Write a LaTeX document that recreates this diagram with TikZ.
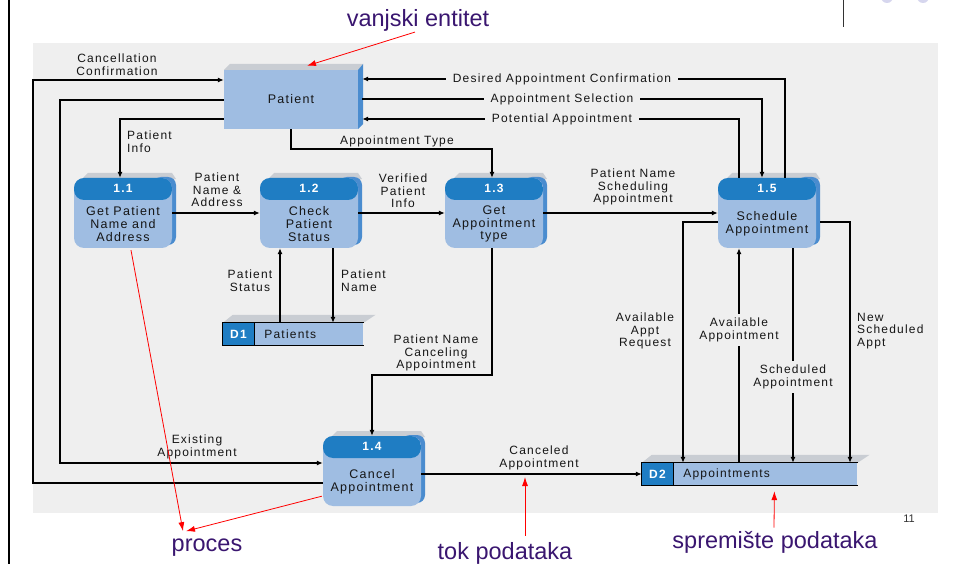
\documentclass[tikz,border=0pt]{standalone}
\usepackage{fontspec}
\setmainfont{Liberation Sans}
\newfontfamily\dfdfont[LetterSpace=10]{Liberation Sans}
\usetikzlibrary{arrows.meta}

\definecolor{slidebg}{HTML}{EFEFEF}
\definecolor{bodyblue}{HTML}{9FBDE2}
\definecolor{headblue}{HTML}{1F7DC3}
\definecolor{sideblue}{HTML}{4A8CCF}
\definecolor{topshade}{HTML}{C9CDD3}
\definecolor{notepurple}{HTML}{3A1670}
\definecolor{dotlilac}{HTML}{D6D6EE}
\definecolor{inktext}{HTML}{151515}

\tikzset{
  flow/.style={line width=1.1pt, -{Latex[length=6pt,width=5pt]}},
  lbl/.style={font=\dfdfont\fontsize{12}{12.6}\selectfont, align=center, inner sep=1pt, text=inktext},
  gaplbl/.style={lbl, fill=slidebg, inner xsep=7pt, inner ysep=4pt},
  proc/.style={rectangle, rounded corners=10pt, fill=bodyblue, minimum width=98pt,
    minimum height=70pt, inner sep=0pt,
    path picture={\fill[headblue] (path picture bounding box.north west)
      rectangle ([yshift=-22pt]path picture bounding box.north east);}},
  procnum/.style={font=\dfdfont\bfseries\fontsize{12}{12}\selectfont, text=white},
  proctext/.style={font=\dfdfont\fontsize{12.5}{12.8}\selectfont, align=center, text=inktext},
  entity/.style={rectangle, fill=bodyblue, minimum width=134pt, minimum height=59pt,
    inner sep=0pt, font=\dfdfont\fontsize{12.5}{12.5}\selectfont, text=inktext},
  storeid/.style={rectangle, fill=headblue, minimum width=31pt, minimum height=22pt,
    inner sep=0pt, font=\dfdfont\bfseries\fontsize{12}{12}\selectfont, text=white},
  storename/.style={rectangle, fill=bodyblue, minimum height=22pt, inner xsep=10pt,
    inner ysep=0pt, align=left, anchor=west, font=\dfdfont\fontsize{12}{12}\selectfont, text=inktext},
  storeline/.style={line width=1.3pt, line join=miter},
  note/.style={font=\fontsize{23.5}{26}\selectfont, text=notepurple, inner sep=0pt, anchor=base},
  notearrow/.style={draw=red, line width=0.8pt, -{Latex[length=9pt,width=6pt]}}
}

% process bubble: name, centre x, centre y, number, caption
\newcommand\dfdproc[5]{%
  \fill[topshade] (#2-40,#3-35) -- (#2-35,#3-40) -- (#2+49,#3-40) -- (#2+53,#3-34) -- (#2+49,#3-33) -- cycle;
  \fill[sideblue, rounded corners=8pt] (#2+30,#3-36) rectangle (#2+53,#3+32);
  \node[proc] (#1) at (#2,#3) {};
  \node[procnum] at ([yshift=-11pt]#1.north) {#4};
  \node[proctext] at ([yshift=-11pt]#1.center) {#5};
}

% data store: id node, name node, centre x of id, centre y, text width of name, id, name
\newcommand\dfdstore[7]{%
  \node[storeid] (#1) at (#3,#4) {#6};
  \node[storename, text width=#5] (#2) at (#1.east) {#7};
  \fill[topshade] (#1.north west) -- ([xshift=10pt,yshift=8pt]#1.north west)
    -- ([xshift=12pt,yshift=8pt]#2.north east) -- (#2.north east) -- cycle;
  \draw[storeline] (#2.north east) -- (#1.north west) -- (#1.south west) -- (#2.south east);
  \draw[storeline] (#1.north east) -- (#1.south east);
}

\begin{document}
\begin{tikzpicture}[x=1pt,y=-1pt]
\useasboundingbox (0,0) rectangle (954,564);
\fill[white] (0,0) rectangle (954,564);

% slide furniture
\draw[line width=2pt] (9,0) -- (9,564);
\draw[line width=1pt, black!80] (843,0) -- (843,27);
\fill[dotlilac] (887,-3) circle (6);
\fill[dotlilac] (923,-3) circle (6);
\fill[slidebg] (33,43) rectangle (938,513);

% external entity
\fill[topshade] (224,70) -- (230,64) -- (363,64) -- (358,70) -- cycle;
\fill[sideblue] (358,70) -- (363,64) -- (363,124) -- (358,129) -- cycle;
\node[entity] (pat) at (291,99.5) {Patient};

% processes
\dfdproc{p11}{123}{213}{1.1}{Get Patient\\Name and\\Address}
\dfdproc{p12}{309}{213}{1.2}{Check\\Patient\\Status}
\dfdproc{p13}{494}{213}{1.3}{Get\\Appointment\\type}
\dfdproc{p15}{767}{213}{1.5}{Schedule\\Appointment}
\dfdproc{p14}{372}{471}{1.4}{Cancel\\Appointment}

% data stores
\dfdstore{d1id}{d1}{238.5}{334}{89pt}{D1}{Patients}
\dfdstore{d2id}{d2}{657.5}{474}{164pt}{D2}{Appointments}

% data flows
\draw[flow] ([yshift=-12pt]p14.west) -| (33,80) -- (pat.west |- 0,80);
\node[lbl] at (117,64.5) {Cancellation\\Confirmation};

\draw[flow] (pat.west |- 0,100) -| (60,463) -- (p14.west |- 0,463);
\node[lbl] at (197,447) {Existing\\Appointment};

\draw[flow] (pat.west |- 0,119) -| ([xshift=-3pt]p11.north);
\node[lbl, anchor=west, align=left] at (126,141.5) {Patient\\Info};

\draw[flow] (pat.south) -- (pat.south |- 0,149) -| ([xshift=-2pt]p13.north);
\node[lbl] at (397,141) {Appointment Type};

\draw[flow] ([xshift=18pt]p15.north) |- ([xshift=4pt]pat.east |- 0,79);
\node[gaplbl] at (562,79) {Desired Appointment Confirmation};

\draw[flow] ([xshift=4pt]pat.east |- 0,99) -| ([xshift=-5pt]p15.north);
\node[gaplbl] at (562,99) {Appointment Selection};

\draw[flow] ([xshift=-28pt]p15.north) |- ([xshift=4pt]pat.east |- 0,119);
\node[gaplbl] at (562,119) {Potential Appointment};

\draw[flow] (p11) -- (p12);
\node[lbl] at (217,190) {Patient\\Name \&\\Address};

\draw[flow] (p12) -- (p13);
\node[lbl] at (403,191) {Verified\\Patient\\Info};

\draw[flow] (p13) -- (p15);
\node[lbl] at (633,187) {Patient Name\\Scheduling\\Appointment};

\draw[flow] (d1.north -| 280,0) -- (p12.south -| 280,0);
\node[lbl] at (250,281) {Patient\\Status};

\draw[flow] (p12.south -| 333,0) -- (d1.north -| 333,0);
\node[lbl, anchor=west, align=left] at (340,281) {Patient\\Name};

\draw[flow] ([xshift=-2pt]p13.south) |- (p14.north |- 0,375) -- (p14.north);
\node[lbl] at (436,353) {Patient Name\\Canceling\\Appointment};

\draw[flow] (p14.east |- 0,474) -- (d2id.west |- 0,474);
\node[lbl] at (539,458) {Canceled\\Appointment};

\draw[flow] (p15.west |- 0,222) -| (d2.north -| 683,0);
\node[lbl] at (645,331) {Available\\Appt\\Request};

\draw[flow] (d2.north -| 739,0) -- (p15.south -| 739,0);
\node[gaplbl] at (739,330) {Available\\Appointment};

\draw[flow] (p15.south -| 793,0) -- (d2.north -| 793,0);
\node[gaplbl] at (793,377) {Scheduled\\Appointment};

\draw[flow] ([xshift=4pt]p15.east |- 0,222) -| (d2.north -| 850,0);
\node[lbl, anchor=west, align=left] at (856,331) {New\\Scheduled\\Appt};

% annotations
\node[note] (vanj) at (418,27) {vanjski entitet};
\draw[notearrow] ([xshift=-3pt]vanj.south) -- ([xshift=16pt,yshift=4pt]pat.north);

\node[note] (procnote) at (207,551) {proces};
\draw[notearrow] ([xshift=8pt,yshift=-2pt]p11.south) -- ([xshift=-24pt,yshift=7pt]procnote.north);
\draw[notearrow] ([xshift=-1pt,yshift=10pt]p14.south west) -- ([xshift=-21pt,yshift=7pt]procnote.north);

\node[note] (toknote) at (505,559) {tok podataka};
\coordinate (flowpt) at (525,477);
\draw[notearrow] ([xshift=20pt,yshift=6pt]toknote.north) -- (flowpt);

\node[note] (storenote) at (775,548) {spremište podataka};
\draw[notearrow] ([xshift=-1pt,yshift=3pt]storenote.north) -- ([xshift=9pt,yshift=-6pt]d2.south);

\node[font=\fontsize{11}{11}\selectfont, text=black!80] (pagenum) at (909,519) {11};
\end{tikzpicture}
\end{document}
